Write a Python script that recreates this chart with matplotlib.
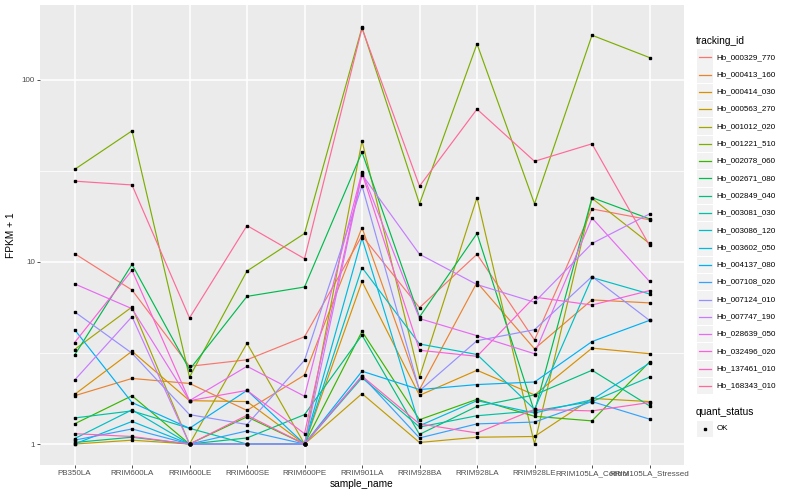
import numpy as np
import matplotlib
matplotlib.use("Agg")
import matplotlib.pyplot as plt
from matplotlib.ticker import FixedLocator, NullFormatter
from matplotlib.patches import Rectangle
from matplotlib.lines import Line2D

plt.rcParams["font.family"] = ["Liberation Sans", "DejaVu Sans"]

samples = ["PB350LA", "RRIM600LA", "RRIM600LE", "RRIM600SE", "RRIM600PE", "RRIM901LA",
           "RRIM928BA", "RRIM928LA", "RRIM928LE", "RRIM105LA_Control", "RRIM105LA_Stressed"]

tracking_ids = ["Hb_000329_770", "Hb_000413_160", "Hb_000414_030", "Hb_000563_270",
                "Hb_001012_020", "Hb_001221_510", "Hb_002078_060", "Hb_002671_080",
                "Hb_002849_040", "Hb_003081_030", "Hb_003086_120", "Hb_003602_050",
                "Hb_004137_080", "Hb_007108_020", "Hb_007124_010", "Hb_007747_190",
                "Hb_028639_050", "Hb_032496_020", "Hb_137461_010", "Hb_168343_010"]

# FPKM + 1, one list per gene
hb_000329_770 = [11.1, 7.0, 2.67, 2.9, 3.88, 13.9, 5.6, 11.0, 3.72, 19.5, 17.0]
hb_000413_160 = [1.84, 2.29, 2.15, 1.53, 2.39, 15.4, 1.99, 7.7, 3.33, 6.18, 5.95]
hb_000414_030 = [1.87, 3.23, 1.73, 1.71, 1.0, 7.8, 1.85, 2.54, 1.86, 3.36, 3.13]
hb_000563_270 = [1.0, 1.05, 1.0, 1.0, 1.0, 1.89, 1.02, 1.09, 1.10, 1.78, 1.71]
hb_001012_020 = [3.3, 5.65, 1.0, 3.57, 1.0, 46.1, 2.33, 22.5, 1.0, 22.3, 12.6]
hb_001221_510 = [32.1, 52.3, 2.33, 8.9, 14.3, 193, 20.8, 157, 20.8, 175, 132]
hb_002078_060 = [1.29, 1.84, 1.0, 1.41, 1.0, 4.15, 1.36, 1.76, 1.42, 1.34, 2.82]
hb_002671_080 = [3.07, 9.67, 2.56, 6.46, 7.27, 40.0, 4.98, 14.3, 1.5, 22.5, 17.2]
hb_002849_040 = [1.02, 1.09, 1.0, 1.08, 1.45, 3.96, 1.13, 1.61, 1.86, 2.54, 1.62]
hb_003081_030 = [1.39, 1.52, 1.22, 1.0, 1.0, 2.31, 1.24, 1.43, 1.52, 1.71, 2.33]
hb_003086_120 = [1.07, 1.54, 1.0, 1.0, 1.0, 9.3, 3.54, 3.1, 1.55, 8.2, 6.66]
hb_003602_050 = [1.0, 1.33, 1.0, 1.0, 1.0, 13.5, 1.26, 1.73, 1.48, 1.75, 2.78]
hb_004137_080 = [4.25, 1.69, 1.22, 1.97, 1.0, 2.51, 1.99, 2.12, 2.19, 3.65, 4.77]
hb_007108_020 = [1.05, 1.21, 1.0, 1.18, 1.0, 2.36, 1.08, 1.29, 1.32, 1.71, 1.37]
hb_007124_010 = [5.32, 3.15, 1.45, 1.28, 2.88, 26.1, 1.96, 3.69, 4.24, 8.3, 4.77]
hb_007747_190 = [2.24, 5.0, 1.0, 1.0, 1.0, 30.1, 11.0, 7.5, 6.0, 12.6, 18.3]
hb_028639_050 = [7.57, 5.53, 1.73, 2.67, 1.83, 31.2, 4.88, 3.93, 3.13, 17.4, 7.8]
hb_032496_020 = [3.6, 8.98, 1.73, 1.97, 1.14, 30.7, 3.27, 3.03, 6.4, 5.79, 6.95]
hb_137461_010 = [1.14, 1.10, 1.0, 1.44, 1.0, 2.36, 1.29, 1.15, 1.55, 1.52, 1.69]
hb_168343_010 = [27.7, 26.4, 4.92, 15.8, 10.4, 191, 26.0, 68.8, 35.6, 44.4, 12.3]

series = [hb_000329_770, hb_000413_160, hb_000414_030, hb_000563_270, hb_001012_020,
          hb_001221_510, hb_002078_060, hb_002671_080, hb_002849_040, hb_003081_030,
          hb_003086_120, hb_003602_050, hb_004137_080, hb_007108_020, hb_007124_010,
          hb_007747_190, hb_028639_050, hb_032496_020, hb_137461_010, hb_168343_010]


def hue_pal(n, l=65, c=100):
    # ggplot2 default hue palette (polar LUV -> sRGB)
    hs = np.linspace(15, 375, n + 1)[:-1]
    xn, yn, zn = 95.047, 100.0, 108.883
    un = 4 * xn / (xn + 15 * yn + 3 * zn)
    vn = 9 * yn / (xn + 15 * yn + 3 * zn)
    out = []
    for h in hs:
        u = c * np.cos(np.radians(h))
        v = c * np.sin(np.radians(h))
        Y = yn * ((l + 16) / 116) ** 3
        q = u / (13 * l) + un
        r = v / (13 * l) + vn
        X = 9 * Y * q / (4 * r)
        Z = -X / 3 - 5 * Y + 3 * Y / r
        rgb = np.array([3.240479 * X - 1.537150 * Y - 0.498535 * Z,
                        -0.969256 * X + 1.875992 * Y + 0.041556 * Z,
                        0.055648 * X - 0.204043 * Y + 1.057311 * Z]) / yn
        rgb = np.where(rgb > 0.00304, 1.055 * np.abs(rgb) ** (1 / 2.4) - 0.055, 12.92 * rgb)
        out.append(tuple(np.clip(rgb, 0, 1)))
    return out


colors = hue_pal(len(tracking_ids))

fig = plt.figure(figsize=(8, 5), dpi=100)
fig.patch.set_facecolor("white")
ax = fig.add_axes([0.05, 0.07, 0.805, 0.92])
ax.set_facecolor("#EBEBEB")

x = np.arange(len(samples))
for vals, col in zip(series, colors):
    ax.plot(x, vals, color=col, lw=0.85, zorder=3)
for vals in series:
    ax.plot(x, vals, ls="none", marker="s", ms=2.1, color="black", zorder=4)

ax.set_yscale("log")
ax.set_ylim(10 ** -0.115, 10 ** 2.409)
ax.set_xlim(-0.6, len(samples) - 0.4)

ax.yaxis.set_major_locator(FixedLocator([1, 10, 100]))
ax.set_yticklabels(["1", "10", "100"])
ax.yaxis.set_minor_locator(FixedLocator([10 ** 0.5, 10 ** 1.5]))
ax.yaxis.set_minor_formatter(NullFormatter())
ax.set_xticks(x)
ax.set_xticklabels(samples)

ax.grid(which="major", color="white", lw=1.1, zorder=1)
ax.grid(which="minor", axis="y", color="white", lw=0.55, zorder=1)
ax.set_axisbelow(True)
for s in ax.spines.values():
    s.set_visible(False)
ax.tick_params(which="major", length=2.2, width=0.6, color="#333333",
               labelsize=5.8, labelcolor="#4D4D4D", pad=1.5)
ax.tick_params(which="minor", length=0)

ax.set_xlabel("sample_name", fontsize=7.3, labelpad=1)
ax.set_ylabel("FPKM + 1", fontsize=7.3, labelpad=4)

# legend, ggplot style
fig.text(696 / 800, 1 - 40.5 / 500, "tracking_id", fontsize=7.3, va="center", ha="left")
for i, (tid, col) in enumerate(zip(tracking_ids, colors)):
    yc = 57.3 + i * 17.3
    fig.patches.append(Rectangle((696.5 / 800, 1 - (yc + 8.2) / 500), 16.5 / 800, 16.4 / 500,
                                 transform=fig.transFigure, facecolor="#F2F2F2",
                                 edgecolor="none"))
    fig.lines.append(Line2D([698.5 / 800, 711 / 800], [1 - yc / 500] * 2, color=col, lw=0.9,
                            transform=fig.transFigure))
    fig.text(716.5 / 800, 1 - yc / 500, tid, fontsize=5.8, va="center", ha="left")

fig.text(696 / 800, 1 - 412 / 500, "quant_status", fontsize=7.3, va="center", ha="left")
fig.patches.append(Rectangle((696.5 / 800, 1 - (428.7 + 8.2) / 500), 16.5 / 800, 16.4 / 500,
                             transform=fig.transFigure, facecolor="#F2F2F2", edgecolor="none"))
fig.lines.append(Line2D([704.7 / 800], [1 - 428.7 / 500], marker="s", ms=2.1, color="black",
                        ls="none", transform=fig.transFigure))
fig.text(716.5 / 800, 1 - 428.7 / 500, "OK", fontsize=5.8, va="center", ha="left")

fig.savefig("out.png", dpi=100)
